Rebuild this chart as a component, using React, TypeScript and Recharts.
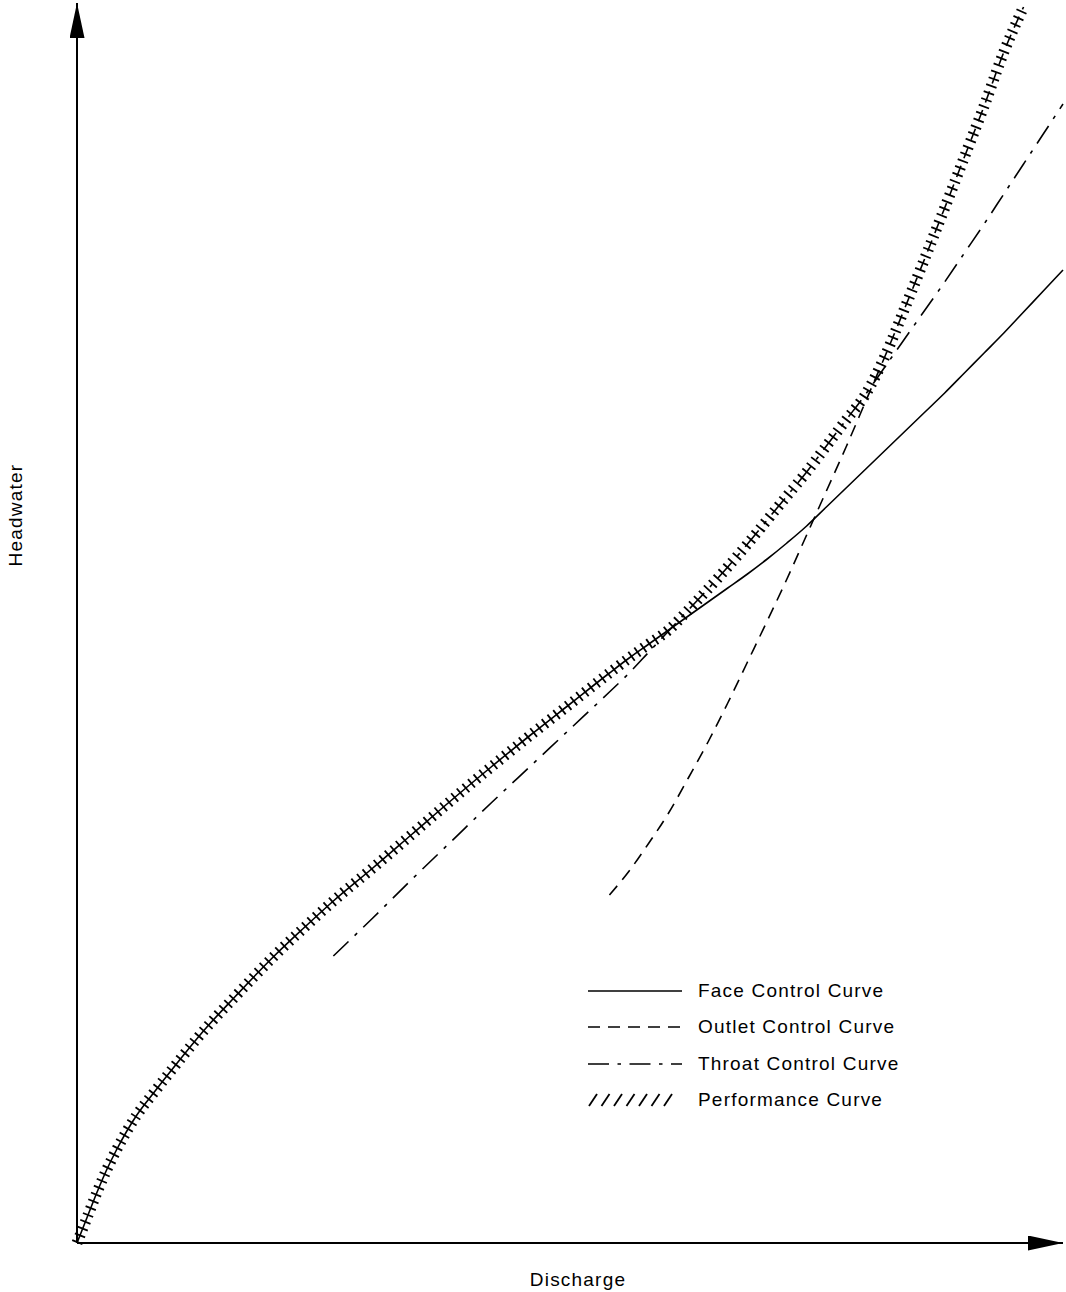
import React from 'react';
import { LineChart, Line, XAxis, YAxis, Legend, Label } from 'recharts';

// Discharge sample points shared by every curve (arbitrary units, no tick labels shown)
const discharge = [
  0, 1, 2, 3, 4, 6, 8, 10, 13, 16, 20, 23, 26, 30, 34, 38, 42, 46, 50, 54, 56, 58, 60, 62,
  64, 66, 68, 70, 72, 74, 76, 78, 80, 82, 84, 86, 88, 90, 92, 94, 96, 98, 100,
];

// Headwater for inlet face control
const faceControl = [
  0, 2.5, 5.0, 7.3, 9.3, 12.7, 15.3, 17.8, 21.4, 24.6, 28.7, 31.5, 34.2, 37.5, 40.9, 44.3,
  47.6, 50.8, 53.9, 57.0, 58.5, 59.9, 61.3, 62.7, 64.1, 65.5, 66.9, 68.4, 70.0, 71.7, 73.6,
  75.5, 77.4, 79.3, 81.2, 83.1, 85.0, 87.0, 89.0, 91.0, 93.1, 95.2, 97.3,
];

// Headwater for outlet control
const outletControl = [
  null, null, null, null, null, null, null, null, null, null, null, null, null, null, null,
  null, null, null, null, 34.8, 37.2, 40.0, 43.0, 46.5, 50.1, 54.0, 58.1, 62.2, 66.4, 70.8,
  75.2, 79.6, 84.2, 88.8, 93.6, 98.5, 103.5, 108.6, 113.7, 119.1, 123.6, null, null,
];

// Headwater for throat control
const throatControl = [
  null, null, null, null, null, null, null, null, null, null, null, null, 28.7, 32.5, 36.4,
  40.2, 44.0, 47.7, 51.4, 55.1, 57.0, 59.1, 61.2, 63.3, 65.4, 67.6, 69.9, 72.3, 74.7, 77.1,
  79.7, 82.3, 84.9, 87.7, 90.5, 93.3, 96.1, 99.0, 101.9, 104.9, 107.9, 110.9, 113.9,
];

// Governing (highest) headwater: the performance curve
const performance = [
  0, 2.5, 5.0, 7.3, 9.3, 12.7, 15.3, 17.8, 21.4, 24.6, 28.7, 31.5, 34.2, 37.5, 40.9, 44.3,
  47.6, 50.8, 53.9, 57.0, 58.5, 59.9, 61.3, 63.3, 65.4, 67.6, 69.9, 72.3, 74.7, 77.1, 79.7,
  82.3, 84.9, 88.8, 93.6, 98.5, 103.5, 108.6, 113.7, 119.1, 123.6, null, null,
];

const xTitle = 'Discharge';
const yTitle = 'Headwater';

const rows = discharge.map((q, i) => ({
  q,
  face: faceControl[i],
  outlet: outletControl[i],
  throat: throatControl[i],
  perf: performance[i],
}));

type SeriesDef = { key: string; name: string; dash?: string; hatch?: boolean };

const series: SeriesDef[] = [
  { key: 'face', name: 'Face Control Curve' },
  { key: 'outlet', name: 'Outlet Control Curve', dash: '12 8' },
  { key: 'throat', name: 'Throat Control Curve', dash: '21 8.5 3.5 8.5' },
  { key: 'perf', name: 'Performance Curve', hatch: true },
];

const FONT = '"Liberation Sans", Arial, Helvetica, sans-serif';
const TEXT_STYLE = { fontFamily: FONT, fontSize: 19, letterSpacing: 1.2, fill: '#000' };

function LegendSample({ s }: { s: SeriesDef }) {
  if (s.hatch) {
    const slashes = [0, 1, 2, 3, 4, 5, 6];
    return (
      <svg width={94} height={20} style={{ display: 'block' }}>
        {slashes.map((i) => (
          <line
            key={i}
            x1={1 + i * 12.5}
            y1={16}
            x2={9 + i * 12.5}
            y2={4}
            stroke="#000"
            strokeWidth={1.8}
          />
        ))}
      </svg>
    );
  }
  return (
    <svg width={94} height={20} style={{ display: 'block' }}>
      <line x1={0} y1={10} x2={94} y2={10} stroke="#000" strokeWidth={1.6} strokeDasharray={s.dash} />
    </svg>
  );
}

function LegendBox() {
  return (
    <div style={{ fontFamily: FONT, fontSize: 19, letterSpacing: 1.2, color: '#000' }}>
      {series.map((s) => (
        <div key={s.key} style={{ display: 'flex', alignItems: 'center', height: 36.3, whiteSpace: 'nowrap' }}>
          <LegendSample s={s} />
          <span style={{ marginLeft: 16, lineHeight: '36.3px' }}>{s.name}</span>
        </div>
      ))}
    </div>
  );
}

function XTitle(props: any) {
  const vb = props.viewBox || { x: 0, y: 0, width: 0, height: 0 };
  return (
    <text x={vb.x + vb.width / 2 + 8} y={vb.y + 43} textAnchor="middle" style={TEXT_STYLE}>
      {xTitle}
    </text>
  );
}

function YTitle(props: any) {
  const vb = props.viewBox || { x: 0, y: 0, width: 0, height: 0 };
  const x = vb.x + vb.width - 55;
  const y = vb.y + vb.height * 0.413;
  return (
    <text x={x} y={y} textAnchor="middle" transform={`rotate(-90, ${x}, ${y})`} style={TEXT_STYLE}>
      {yTitle}
    </text>
  );
}

export default function App() {
  return (
    <div style={{ position: 'absolute', left: 0, top: 0, width: 1066, height: 1292, background: '#fff' }}>
      <LineChart width={1066} height={1292} data={rows} margin={{ top: 3, right: 3, bottom: 48, left: 76 }}>
        <defs>
          <marker
            id="axisArrow"
            markerUnits="userSpaceOnUse"
            markerWidth={35}
            markerHeight={15}
            viewBox="0 0 35 15"
            refX={35}
            refY={7.5}
            orient="auto-start-reverse"
          >
            <path d="M0,0 L35,7.5 L0,15 Z" fill="#000" />
          </marker>
        </defs>
        <XAxis
          type="number"
          dataKey="q"
          domain={[0, 100]}
          tick={false}
          tickLine={false}
          height={1}
          axisLine={{ stroke: '#000', strokeWidth: 2, markerEnd: 'url(#axisArrow)' }}
        >
          <Label content={<XTitle />} />
        </XAxis>
        <YAxis
          type="number"
          domain={[0, 124]}
          tick={false}
          tickLine={false}
          width={1}
          axisLine={{ stroke: '#000', strokeWidth: 2, markerStart: 'url(#axisArrow)' }}
        >
          <Label content={<YTitle />} />
        </YAxis>
        {series
          .filter((s) => !s.hatch)
          .map((s) => (
            <Line
              key={s.key}
              type="monotone"
              dataKey={s.key}
              name={s.name}
              stroke="#000"
              strokeWidth={1.6}
              strokeDasharray={s.dash}
              dot={false}
              activeDot={false}
              isAnimationActive={false}
            />
          ))}
        {series
          .filter((s) => s.hatch)
          .map((s) => (
            <Line
              key={s.key}
              type="monotone"
              dataKey={s.key}
              name={s.name}
              stroke="#000"
              strokeWidth={11}
              strokeDasharray="1.8 5.5"
              strokeLinecap="butt"
              dot={false}
              activeDot={false}
              isAnimationActive={false}
            />
          ))}
        <Legend
          layout="horizontal"
          verticalAlign="middle"
          align="center"
          wrapperStyle={{ left: 588, top: 973, width: 'auto', height: 'auto' }}
          content={() => <LegendBox />}
        />
      </LineChart>
    </div>
  );
}
